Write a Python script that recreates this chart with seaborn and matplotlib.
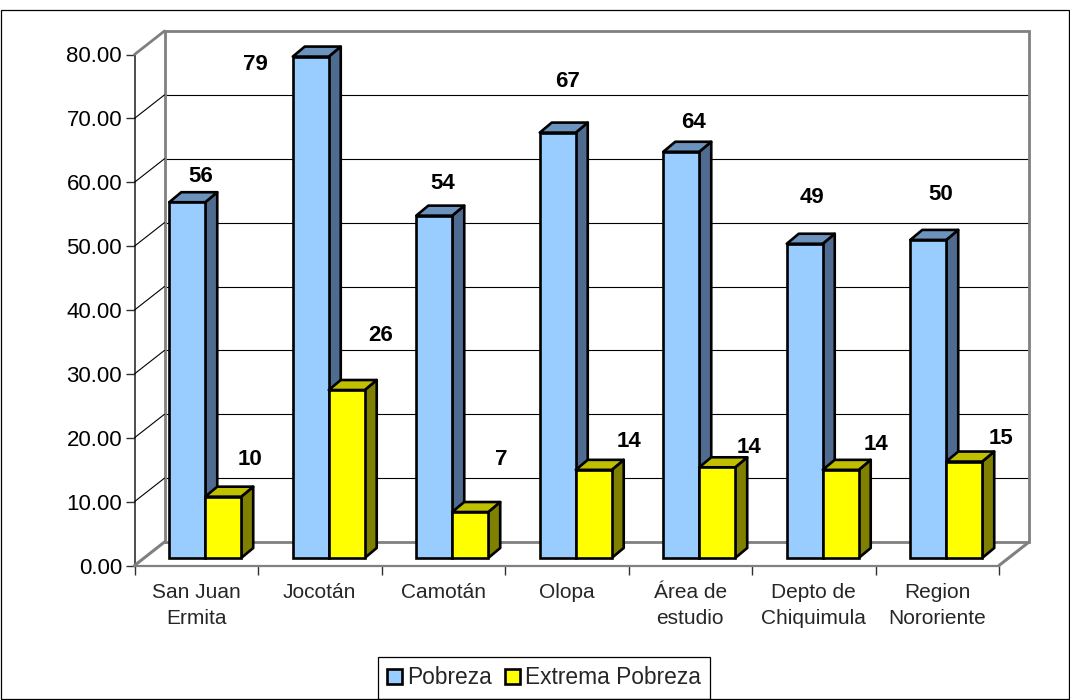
import matplotlib
matplotlib.use("Agg")
from matplotlib import pyplot as plt
from matplotlib.patches import Polygon, Rectangle
from matplotlib.transforms import ScaledTranslation
import seaborn as sns
import pandas as pd

categories = ["San Juan\nErmita", "Jocotán", "Camotán", "Olopa",
              "Área de\nestudio", "Depto de\nChiquimula", "Region\nNororiente"]
pobreza = [55.7, 78.5, 53.6, 66.6, 63.6, 49.2, 49.8]
extrema = [9.6, 26.3, 7.2, 13.8, 14.2, 13.8, 15.1]
pobreza_labels = ["56", "79", "54", "67", "64", "49", "50"]
extrema_labels = ["10", "26", "7", "14", "14", "14", "15"]
y_ticks = [0, 10, 20, 30, 40, 50, 60, 70, 80]

# excel puts the labels wherever, offsets from the bar top in pixels
pobreza_off = [(13, 26), (-55, -8), (8, 32), (10, 51), (12, 29), (7, 46), (12, 45)]
extrema_off = [(27, 37), (34, 55), (31, 53), (35, 28), (32, 20), (35, 25), (37, 23)]

sns.set_style("white")
plt.rcParams['font.family'] = ['Liberation Sans', 'DejaVu Sans']

W, H = 1070, 700
fig = plt.figure(figsize=(W / 100, H / 100), dpi=100, facecolor='white')
ax = fig.add_axes([134.5 / W, (H - 565.5) / H, 864.5 / W, 511 / H])

df = pd.DataFrame({
    'cat': categories * 2,
    'val': pobreza + extrema,
    'serie': ['Pobreza'] * 7 + ['Extrema Pobreza'] * 7,
})
g = sns.barplot(data=df, x='cat', y='val', hue='serie', width=0.5825, gap=0,
                palette=['#99CCFF', '#FFFF00'], saturation=1, errorbar=None,
                edgecolor='black', linewidth=1.9, ax=ax)
ax.set_xlim(-0.5, 6.5)
ax.set_ylim(0, 80)
ax.set_xlabel('')
ax.set_ylabel('')
ax.patch.set_alpha(0)


def shift(px, py):
    return ax.transData + ScaledTranslation(px / 100, py / 100, fig.dpi_scale_trans)


bar_tr = shift(9, 7.5)
back_tr = shift(30, 23.5)
front_tr = ax.transData
GREY = '#808080'
x0, x1 = -0.5, 6.5


def seg(xa, ya, tra, xb, yb, trb, color, lw, z=1):
    # line between points living in two different planes
    pa = tra.transform((xa, ya))
    pb = trb.transform((xb, yb))
    fig.add_artist(plt.Line2D([pa[0], pb[0]], [pa[1], pb[1]], transform=None,
                              color=color, lw=lw, zorder=z))


# back wall, floor and side wall
for y in y_ticks[1:-1]:
    ax.plot([x0, x1], [y, y], transform=back_tr, color='black', lw=0.8, clip_on=False, zorder=1)
    seg(x0, y, front_tr, x0, y, back_tr, 'black', 0.8)
ax.plot([x0, x0, x1, x1, x0], [0, 80, 80, 0, 0], transform=back_tr, color=GREY, lw=2,
        clip_on=False, zorder=1.5, solid_joinstyle='miter')
seg(x0, 80, front_tr, x0, 80, back_tr, GREY, 2)
seg(x0, 0, front_tr, x0, 0, back_tr, GREY, 2.2)
seg(x1, 0, front_tr, x1, 0, back_tr, GREY, 2.2)

# 3d sides for the bars
dx = 12 * 7 / 864.5
dy = 10 * 80 / 511
styles = [('#4F6B8F', '#6C93BE', pobreza, pobreza_labels, pobreza_off),
          ('#808000', '#C0C000', extrema, extrema_labels, extrema_off)]
patches = [p for p in ax.patches if p.get_height() > 0]
for s, (side_col, top_col, vals, labs, offs) in enumerate(styles):
    bars = sorted(patches[s * 7:(s + 1) * 7], key=lambda p: p.get_x())
    for p, lab, off in zip(bars, labs, offs):
        x, w, h = p.get_x(), p.get_width(), p.get_height()
        z = 3 + s
        p.set_transform(bar_tr)
        p.set_clip_on(False)
        p.set_zorder(z + 0.2)
        side = Polygon([(x + w, 0), (x + w + dx, dy), (x + w + dx, h + dy), (x + w, h)],
                       facecolor=side_col, edgecolor='black', lw=1.9, transform=bar_tr,
                       clip_on=False, zorder=z, joinstyle='round')
        top = Polygon([(x, h), (x + dx, h + dy), (x + w + dx, h + dy), (x + w, h)],
                      facecolor=top_col, edgecolor='black', lw=1.9, transform=bar_tr,
                      clip_on=False, zorder=z, joinstyle='round')
        ax.add_patch(side)
        ax.add_patch(top)
        ax.annotate(lab, xy=(x + w / 2, h), xycoords=bar_tr, xytext=off,
                    textcoords='offset pixels', ha='center', va='center',
                    fontsize=16, fontweight='bold', color='black', zorder=8,
                    annotation_clip=False)

# axes
ax.set_yticks(y_ticks, [f"{v:.2f}" for v in y_ticks])
ax.set_xticks(range(7), categories)
ax.set_xticks([i - 0.5 for i in range(8)], minor=True)
ax.tick_params(axis='y', left=True, length=6.5, width=1, color='#303030', pad=2.5,
               labelsize=16, labelcolor='black')
ax.tick_params(axis='x', which='major', bottom=False, length=0, pad=12.5, labelsize=15)
ax.tick_params(axis='x', which='minor', bottom=True, length=6.5, width=1, color='#303030')
for t in ax.get_xticklabels():
    t.set_linespacing(1.48)
for name in ['top', 'right']:
    ax.spines[name].set_visible(False)
ax.spines['left'].set_color('#303030')
ax.spines['left'].set_linewidth(1.2)
ax.spines['bottom'].set_color(GREY)
ax.spines['bottom'].set_linewidth(1.6)

# legend
h, l = ax.get_legend_handles_labels()
ax.legend(h, l, loc='center', bbox_to_anchor=(544 / W, (H - 678) / H),
          bbox_transform=fig.transFigure, ncol=2, frameon=True, fancybox=False,
          framealpha=1, edgecolor='black', fontsize=16.4, handlelength=0.64, handleheight=0.64,
          handletextpad=0.2, columnspacing=0.62, borderpad=0.42, borderaxespad=0)
ax.get_legend().get_frame().set_linewidth(0.9)
for hd in ax.get_legend().get_patches():
    hd.set_linewidth(1.9)
ax.get_legend().set_zorder(9)

# chart border
fig.add_artist(Rectangle((1 / W, 1 / H), 1067.5 / W, 689 / H, transform=fig.transFigure,
                         fill=False, edgecolor='black', lw=0.9))

plt.savefig("out.png", dpi=100)
